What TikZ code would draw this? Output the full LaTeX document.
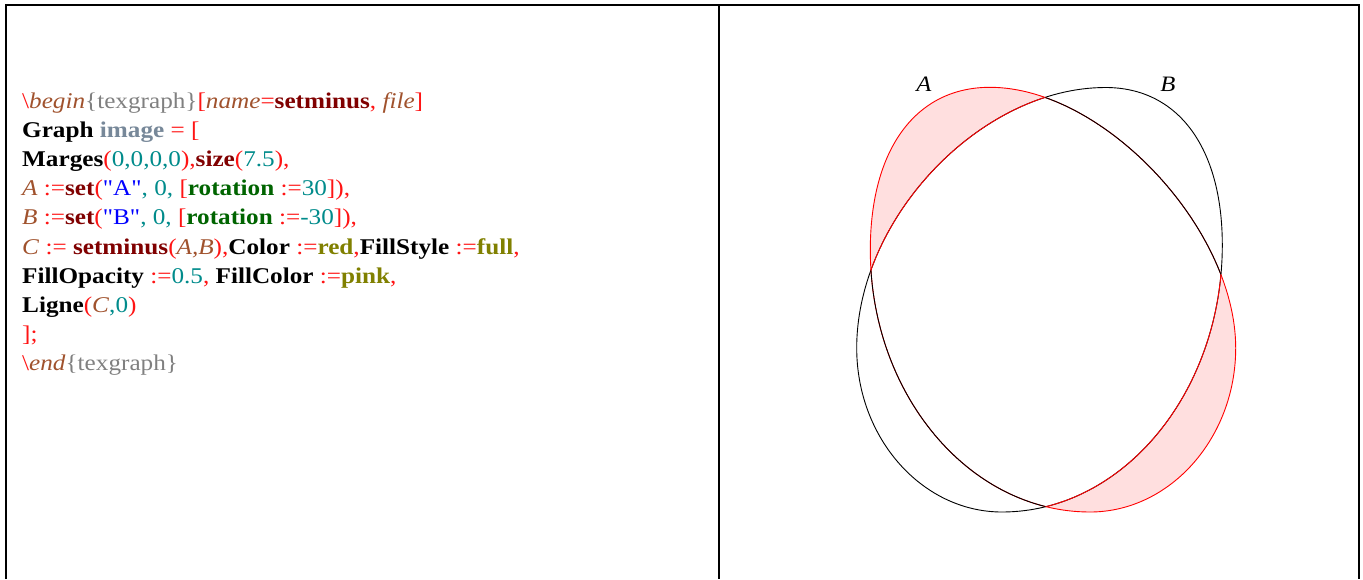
\documentclass[tikz,border=0pt]{standalone}
\usepackage{fontspec}
\setmainfont{Liberation Serif}[Ligatures=TeXOff,FakeStretch=1.12]
\definecolor{tgred}{RGB}{255,20,20}
\definecolor{tgbrown}{RGB}{160,82,45}
\definecolor{tggray}{RGB}{128,128,128}
\definecolor{tgdark}{RGB}{128,0,0}
\definecolor{tgteal}{RGB}{0,139,139}
\definecolor{tggreen}{RGB}{0,100,0}
\definecolor{tgolive}{RGB}{128,128,0}
\definecolor{tgblue}{RGB}{0,0,255}
\definecolor{tgslate}{RGB}{119,136,153}
\newcommand\tgR[1]{\textcolor{tgred}{#1}}
\newcommand\tgBr[1]{\textcolor{tgbrown}{\textit{#1}}}
\newcommand\tgGy[1]{\textcolor{tggray}{#1}}
\newcommand\tgDR[1]{\textcolor{tgdark}{\textbf{#1}}}
\newcommand\tgT[1]{\textcolor{tgteal}{#1}}
\newcommand\tgGn[1]{\textcolor{tggreen}{\textbf{#1}}}
\newcommand\tgOl[1]{\textcolor{tgolive}{\textbf{#1}}}
\newcommand\tgBl[1]{\textcolor{tgblue}{#1}}
\newcommand\tgK[1]{\textbf{#1}}
% outlines of the sets A and B (pixel coordinates, y downwards)
\newcommand\Apath{(990,87.3) .. controls (1103,87.3) and (1235.7,228) .. (1235.7,348) .. controls (1235.7,438) and (1170,512) .. (1090,512) .. controls (969.2,512) and (870.3,394.1) .. (870.3,250) .. controls (870.3,149.1) and (915.8,87.3) .. (990,87.3) -- cycle}
\newcommand\Bpath{(1105.5,87.5) .. controls (1177.9,87.5) and (1222.3,147.3) .. (1222.3,245) .. controls (1222.3,391.9) and (1123.2,512) .. (1002,512) .. controls (922,512) and (856.7,438) .. (856.7,348) .. controls (856.7,217.75) and (981.1,87.5) .. (1105.5,87.5) -- cycle}
\begin{document}
\begin{tikzpicture}[x=1pt,y=-1pt,
  codeline/.style={anchor=base west,inner sep=0pt,font=\fontsize{22.5}{27}\selectfont},
  setlabel/.style={anchor=base,inner sep=0pt,font=\fontsize{22}{26}\selectfont\itshape},
  frameline/.style={line width=1.2pt,black},
  setline/.style={line width=0.9pt,line join=round}]
\useasboundingbox (0,0) rectangle (1363,579);
% frame
\draw[frameline] (6,579) -- (6,5) -- (1359,5) -- (1359,579);
\draw[frameline] (719,5) -- (719,579);
% code
\node[codeline] (l1) at (22,108.5) {\tgR{\textbackslash}\tgBr{begin}\tgGy{\{texgraph\}}\tgR{[}\tgBr{name}\tgR{=}\tgDR{setminus}\tgR{,} \tgBr{file}\tgR{]}};
\node[codeline] (l2) at (22,137.6) {\tgK{Graph} \textcolor{tgslate}{\textbf{image}} \tgR{= [}};
\node[codeline] (l3) at (22,166.7) {\tgK{Marges}\tgR{(}\tgT{0,0,0,0}\tgR{),}\tgDR{size}\tgR{(}\tgT{7.5}\tgR{),}};
\node[codeline] (l4) at (22,195.8) {\tgBr{A} \tgR{:=}\tgDR{set}\tgR{(}\tgBl{"A"}\tgT{, 0,} \tgR{[}\tgGn{rotation} \tgR{:=}\tgT{30}\tgR{]),}};
\node[codeline] (l5) at (22,224.9) {\tgBr{B} \tgR{:=}\tgDR{set}\tgR{(}\tgBl{"B"}\tgT{, 0,} \tgR{[}\tgGn{rotation} \tgR{:=}\tgT{-30}\tgR{]),}};
\node[codeline] (l6) at (22,254.0) {\tgBr{C} \tgR{:=} \tgDR{setminus}\tgR{(}\tgBr{A,B}\tgR{),}\tgK{Color} \tgR{:=}\tgOl{red}\tgR{,}\tgK{FillStyle} \tgR{:=}\tgOl{full}\tgR{,}};
\node[codeline] (l7) at (22,283.1) {\tgK{FillOpacity} \tgR{:=}\tgT{0.5}\tgR{,} \tgK{FillColor} \tgR{:=}\tgOl{pink}\tgR{,}};
\node[codeline] (l8) at (22,312.2) {\tgK{Ligne}\tgR{(}\tgBr{C}\tgT{,0}\tgR{)}};
\node[codeline] (l9) at (22,341.3) {\tgR{];}};
\node[codeline] (l10) at (22,370.4) {\tgR{\textbackslash}\tgBr{end}\tgGy{\{texgraph\}}};
% sets: C = A minus B, filled pink
\begin{scope}
  \clip \Apath;
  \fill[pink,fill opacity=0.5,even odd rule] (650,-10) rectangle (1450,600) \Bpath;
\end{scope}
\draw[setline,black] \Bpath;
\draw[setline,red] \Apath;
\begin{scope}
  \clip \Bpath;
  \draw[setline,black] \Apath;
\end{scope}
\begin{scope}
  \clip \Apath;
  \draw[setline,red] \Bpath;
\end{scope}
\node[setlabel] (la) at (924,91) {A};
\node[setlabel] (lb) at (1168,91) {B};
\end{tikzpicture}
\end{document}
